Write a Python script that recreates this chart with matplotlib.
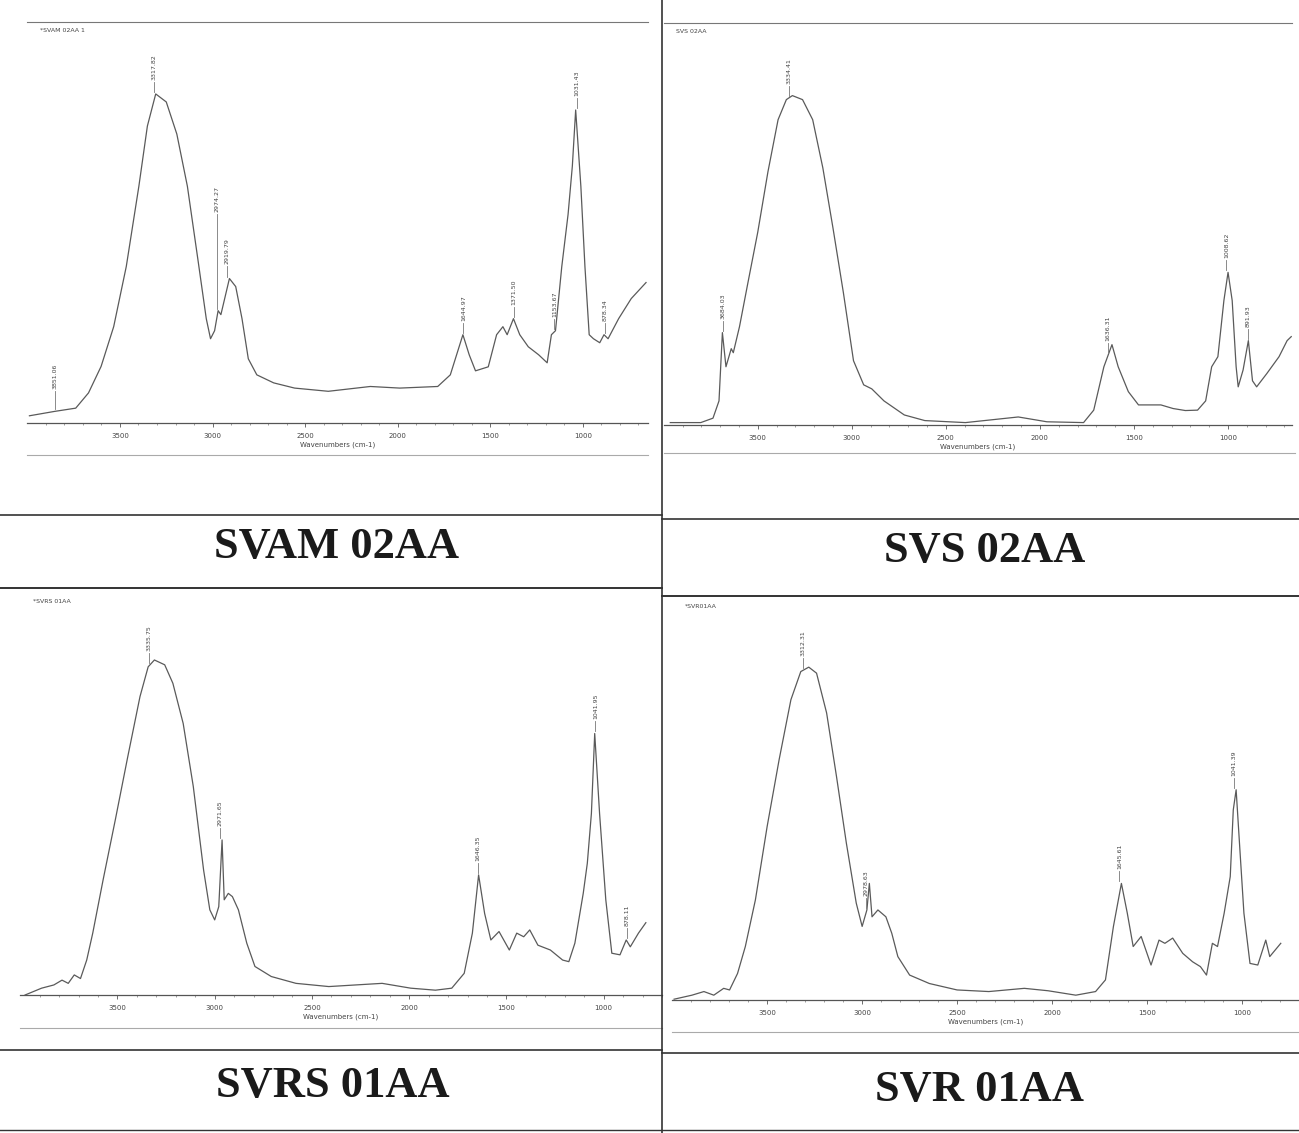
import numpy as np
import matplotlib
matplotlib.use("Agg")
import matplotlib.pyplot as plt
from matplotlib.lines import Line2D

W, H = 1299, 1133

# ---- spectra (wavenumber cm-1, relative absorbance) ----
svam_wn = [3989, 3852, 3739, 3670, 3602, 3534, 3466, 3398, 3352, 3307, 3250, 3193,
           3136, 3080, 3034, 3011, 2989, 2970, 2955, 2909, 2875, 2841, 2807, 2761,
           2670, 2557, 2375, 2148, 1989, 1784, 1716, 1648, 1614, 1580, 1511, 1466,
           1432, 1409, 1375, 1341, 1295, 1239, 1193, 1170, 1148, 1114, 1080, 1057,
           1039, 1011, 989, 966, 943, 909, 886, 864, 807, 739, 659]
svam_a = [0.018, 0.029, 0.037, 0.075, 0.141, 0.24, 0.39, 0.59, 0.74, 0.82, 0.80, 0.72,
          0.59, 0.41, 0.26, 0.21, 0.23, 0.28, 0.27, 0.36, 0.34, 0.26, 0.16, 0.12,
          0.10, 0.087, 0.079, 0.091, 0.087, 0.091, 0.12, 0.22, 0.17, 0.13, 0.14, 0.22,
          0.24, 0.22, 0.26, 0.22, 0.19, 0.17, 0.15, 0.22, 0.23, 0.39, 0.52, 0.64,
          0.78, 0.59, 0.39, 0.22, 0.21, 0.20, 0.22, 0.21, 0.26, 0.31, 0.35]

svs_wn = [3965, 3803, 3738, 3706, 3688, 3669, 3641, 3630, 3597, 3554, 3500, 3446,
          3392, 3348, 3316, 3262, 3208, 3154, 3100, 3045, 2991, 2937, 2894, 2829,
          2721, 2612, 2396, 2115, 1963, 1768, 1714, 1660, 1617, 1584, 1530, 1476,
          1422, 1357, 1292, 1227, 1162, 1119, 1087, 1054, 1022, 1000, 978, 957,
          946, 920, 892, 870, 848, 794, 729, 686, 664]
svs_a = [0.006, 0.006, 0.017, 0.06, 0.23, 0.145, 0.19, 0.18, 0.245, 0.35, 0.48, 0.63,
         0.76, 0.81, 0.82, 0.81, 0.76, 0.64, 0.49, 0.33, 0.16, 0.10, 0.09, 0.06,
         0.025, 0.011, 0.006, 0.02, 0.008, 0.006, 0.037, 0.145, 0.20, 0.145, 0.083, 0.05,
         0.05, 0.05, 0.041, 0.036, 0.037, 0.06, 0.145, 0.17, 0.31, 0.38, 0.31, 0.145,
         0.095, 0.137, 0.21, 0.11, 0.095, 0.128, 0.17, 0.21, 0.22]

svrs_wn = [3975, 3890, 3827, 3785, 3753, 3722, 3690, 3658, 3627, 3574, 3511, 3447,
           3384, 3342, 3310, 3257, 3215, 3162, 3110, 3057, 3025, 3000, 2979, 2962,
           2951, 2930, 2909, 2878, 2835, 2793, 2709, 2582, 2413, 2139, 1992, 1865,
           1781, 1717, 1675, 1643, 1612, 1580, 1538, 1485, 1447, 1411, 1380, 1338,
           1274, 1211, 1179, 1148, 1105, 1084, 1063, 1046, 1021, 989, 958, 916,
           884, 863, 821, 783]
svrs_a = [0.0, 0.017, 0.025, 0.037, 0.029, 0.05, 0.041, 0.087, 0.154, 0.286, 0.436, 0.593,
          0.743, 0.817, 0.834, 0.822, 0.776, 0.676, 0.519, 0.311, 0.212, 0.187, 0.22, 0.386,
          0.237, 0.253, 0.245, 0.212, 0.129, 0.071, 0.046, 0.029, 0.021, 0.029, 0.017, 0.012,
          0.017, 0.054, 0.154, 0.299, 0.203, 0.137, 0.158, 0.112, 0.154, 0.145, 0.162, 0.124,
          0.112, 0.087, 0.083, 0.129, 0.253, 0.328, 0.452, 0.651, 0.452, 0.237, 0.104, 0.10,
          0.137, 0.12, 0.154, 0.18]

svr_wn = [3990, 3896, 3833, 3781, 3729, 3698, 3656, 3615, 3562, 3500, 3437, 3375,
          3323, 3281, 3240, 3187, 3135, 3083, 3031, 3000, 2975, 2962, 2948, 2917,
          2875, 2844, 2812, 2750, 2646, 2500, 2333, 2146, 2021, 1875, 1771, 1719,
          1677, 1635, 1604, 1573, 1531, 1479, 1437, 1406, 1365, 1312, 1260, 1219,
          1187, 1156, 1129, 1094, 1062, 1046, 1031, 1010, 990, 958, 917, 875,
          854, 796]
svr_a = [0.002, 0.012, 0.021, 0.012, 0.029, 0.025, 0.066, 0.133, 0.249, 0.432, 0.598, 0.747,
         0.817, 0.828, 0.813, 0.714, 0.556, 0.39, 0.241, 0.183, 0.224, 0.29, 0.207, 0.224,
         0.207, 0.166, 0.108, 0.062, 0.041, 0.025, 0.021, 0.029, 0.023, 0.012, 0.021, 0.05,
         0.183, 0.29, 0.216, 0.133, 0.158, 0.087, 0.149, 0.141, 0.154, 0.116, 0.095, 0.083,
         0.062, 0.141, 0.133, 0.216, 0.307, 0.473, 0.523, 0.365, 0.216, 0.091, 0.087, 0.149,
         0.108, 0.141]

# peak labels
svam_peaks = [3851.06, 3317.82, 2974.27, 2919.79, 1644.97, 1371.50, 1153.67, 1031.43, 878.34]
svs_peaks = [3684.03, 3334.41, 1636.31, 1008.62, 891.93]
svrs_peaks = [3335.75, 2971.65, 1646.35, 1041.95, 878.11]
svr_peaks = [3312.31, 2978.63, 1645.61, 1041.39]

sample_names = ["SVAM 02AA", "SVS 02AA", "SVRS 01AA", "SVR 01AA"]
file_tags = ["*SVAM 02AA 1", "SVS 02AA", "*SVRS 01AA", "*SVR01AA"]
ticks = [3500, 3000, 2500, 2000, 1500, 1000]

line_col = "#5a5a5a"
text_col = "#444444"

fig = plt.figure(figsize=(W / 100, H / 100), dpi=100)
fig.patch.set_facecolor("white")


def px_axes(x0, x1, ytop, ybase):
    return fig.add_axes([x0 / W, 1 - ybase / H, (x1 - x0) / W, (ybase - ytop) / H])


def fline(xs, ys, lw=1.0, color="#333333"):
    fig.add_artist(Line2D([x / W for x in xs], [1 - y / H for y in ys],
                          transform=fig.transFigure, lw=lw, color=color))


def spectrum(ax, wn, a, peaks, xlim, tag, top_spine=True, gaps=None):
    gaps = gaps or {}
    wn_arr = np.array(wn)
    a_arr = np.array(a)
    ax.plot(wn, a, color=line_col, lw=0.9)
    ax.set_xlim(*xlim)
    ax.set_ylim(0, 1)
    ax.set_facecolor("none")
    for s in ["left", "right"]:
        ax.spines[s].set_visible(False)
    ax.spines["top"].set_visible(top_spine)
    ax.spines["top"].set_color("#777777")
    ax.spines["bottom"].set_color("#555555")
    ax.spines["bottom"].set_linewidth(0.9)
    ax.set_yticks([])
    ax.set_xticks(ticks)
    ax.set_xticklabels([str(t) for t in ticks], fontsize=5, color=text_col)
    ax.set_xticks(np.arange(700, 4000, 100), minor=True)
    ax.tick_params(axis="x", which="major", length=3, width=0.6, color="#555555", pad=4)
    ax.tick_params(axis="x", which="minor", length=1.5, width=0.5, color="#777777")
    ax.set_xlabel("Wavenumbers (cm-1)", fontsize=5, color=text_col, labelpad=2)
    ax.text(0.02, 0.985, tag, transform=ax.transAxes, fontsize=4.5, color=text_col,
            ha="left", va="top")
    for p in peaks:
        near = np.abs(wn_arr - p) <= 15
        y = float(np.interp(p, wn_arr[::-1], a_arr[::-1]))
        if near.any():
            y = max(y, float(a_arr[near].max()))
        gap = gaps.get(p, 0.03)
        ax.plot([p, p], [y + 0.005, y + gap], color="#777777", lw=0.6)
        ax.text(p, y + gap + 0.005, f"{p:.2f}", rotation=90, fontsize=4.5,
                color=text_col, ha="center", va="bottom")


ax1 = px_axes(27.4, 647.7, 21.7, 423)
spectrum(ax1, svam_wn, svam_a, svam_peaks, (4000, 650), file_tags[0],
         gaps={2974.27: 0.24, 3851.06: 0.05})
ax2 = px_axes(663.7, 1292, 23.3, 425)
spectrum(ax2, svs_wn, svs_a, svs_peaks, (4000, 660), file_tags[1])
ax3 = px_axes(20.2, 662, 593.3, 995)
spectrum(ax3, svrs_wn, svrs_a, svrs_peaks, (4000, 783), file_tags[2], top_spine=False)
ax4 = px_axes(672.2, 1299, 598, 1000)
spectrum(ax4, svr_wn, svr_a, svr_peaks, (4000, 796), file_tags[3], top_spine=False)

# frame lines under each plot
fline([27, 648], [455, 455], lw=0.8, color="#aaaaaa")
fline([664, 1295], [453, 453], lw=0.8, color="#aaaaaa")
fline([20, 662], [1028, 1028], lw=0.8, color="#aaaaaa")
fline([672, 1299], [1032, 1032], lw=0.8, color="#aaaaaa")

# table grid
fline([0, 662], [515, 515], lw=1.2)
fline([662, 1299], [519, 519], lw=1.2)
fline([0, 662], [588, 588], lw=1.4)
fline([662, 1299], [596, 596], lw=1.4)
fline([0, 662], [1050, 1050], lw=1.2)
fline([662, 1299], [1053, 1053], lw=1.2)
fline([0, 1299], [1130, 1130], lw=1.0)
fline([662, 662], [0, 1133], lw=1.2)

label_pos = [(337, 547), (985, 551), (333, 1086), (980, 1090)]
for name, (x, y) in zip(sample_names, label_pos):
    fig.text(x / W, 1 - y / H, name, fontsize=32, fontweight="bold",
             family="Liberation Serif", ha="center", va="center", color="#1a1a1a")

fig.savefig("out.png", dpi=100)
